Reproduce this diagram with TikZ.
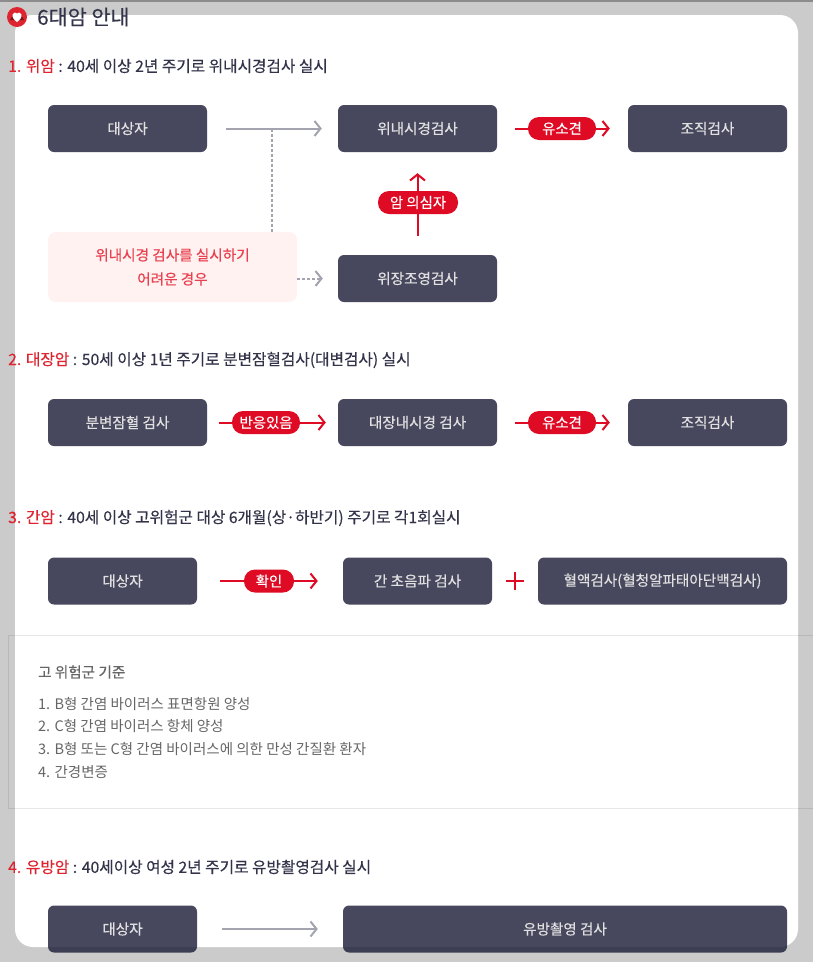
\documentclass[tikz,border=0pt]{standalone}
\usepackage{fontspec}
\setmainfont{Noto Sans CJK KR}
\newfontfamily\heavyfont{Noto Sans CJK KR}[FakeBold=0.35]
\usetikzlibrary{arrows.meta}
\definecolor{panelgray}{HTML}{CBCBCB}
\definecolor{boxdark}{HTML}{191B36}
\definecolor{headdark}{HTML}{33344A}
\definecolor{accentred}{HTML}{DF0A24}
\definecolor{headred}{HTML}{DE2430}
\definecolor{softpink}{HTML}{FFF2F1}
\definecolor{pinktext}{HTML}{E8404F}
\definecolor{arrowgray}{HTML}{A3A4AF}
\definecolor{notegray}{HTML}{666666}
\tikzset{
	examw/.style={draw=none, fill=boxdark, fill opacity=0.8, text opacity=1, text=white!88!black, rounded corners=6pt, minimum height=47pt, inner sep=0pt, font=\heavyfont\fontsize{14.6}{14.6}\selectfont, minimum width=#1},
	tag/.style={fill=accentred, text=white, rounded corners=11pt, minimum height=23pt, inner sep=0pt, font=\heavyfont\fontsize{14.4}{14.4}\selectfont, minimum width=#1},
	heading/.style={anchor=west, inner sep=0pt, text=headdark, font=\heavyfont\fontsize{15.7}{15.7}\selectfont},
	noteline/.style={anchor=west, inner sep=0pt, text=notegray, font=\fontsize{14.5}{14.5}\selectfont},
	grayflow/.style={draw=arrowgray, line width=2pt, -{Straight Barb[length=6pt,width=15pt]}},
	redflow/.style={draw=accentred, line width=2pt, -{Straight Barb[length=6pt,width=15pt]}},
}
\begin{document}
\begin{tikzpicture}[x=1pt, y=-1pt]
	\useasboundingbox (0, 0) rectangle (813, 962);
	\fill [panelgray] (0, 0) rectangle (813, 962);
	\fill [black!45] (0, 0) rectangle (813, 2);
	\fill [white, rounded corners=18pt] (15, 15) rectangle (798, 947);

	\node [circle, fill=headred, minimum size=20pt, inner sep=0pt] (icon) at (17, 17) {};
	\fill [black!45!headred] (10, 20) arc (200:340:7.5) -- cycle;
	\fill [white] (17, 22) .. controls (14, 20) and (12, 17) .. (12.5, 14.5) .. controls (13, 12) and (16, 12) .. (17, 13.5) .. controls (18, 12) and (21, 12) .. (21.5, 14.5) .. controls (22, 17) and (20, 20) .. (17, 22);
	\node [heading, font=\heavyfont\fontsize{20.7}{20.7}\selectfont] (title) at (37, 17) {6대암 안내};

	\node [heading] (headA) at (8, 66) {\textcolor{headred}{1. 위암} : 40세 이상 2년 주기로 위내시경검사 실시};
	\node [examw=159pt] (targetA) at (127.5, 128.5) {대상자};
	\node [examw=159pt] (scopeA) at (417.5, 128.5) {위내시경검사};
	\node [examw=159pt] (tissueA) at (707.5, 128.5) {조직검사};
	\node [examw=159pt] (contrast) at (417.5, 278.5) {위장조영검사};
	\node [fill=softpink, rounded corners=8pt, minimum width=249pt, minimum height=70pt, inner sep=0pt, text=pinktext, align=center, font=\heavyfont\fontsize{14.6}{24}\selectfont] (hard) at (172.5, 267) {위내시경 검사를 실시하기\\어려운 경우};
	\coordinate (split) at (272, 128.5);
	\draw [grayflow, shorten <=19pt, shorten >=16pt] (targetA) -- (scopeA);
	\draw [arrowgray, line width=2pt, dash pattern=on 3pt off 2pt] (split) -- (split |- hard.north);
	\draw [grayflow, dash pattern=on 3pt off 2pt, shorten >=15pt] (hard.east |- contrast.west) -- (contrast.west);
	\draw [redflow, shorten <=18pt, shorten >=18pt] (scopeA) -- (tissueA);
	\draw [redflow, shorten <=19pt, shorten >=21pt] (contrast) -- (scopeA);
	\node [tag=68pt] (findA) at (562, 128.5) {유소견};
	\node [tag=80pt] (suspect) at (418, 202.5) {암 의심자};

	\node [heading] (headB) at (8, 360) {\textcolor{headred}{2. 대장암} : 50세 이상 1년 주기로 분변잠혈검사(대변검사) 실시};
	\node [examw=159pt] (stool) at (127.5, 422.5) {분변잠혈 검사};
	\node [examw=159pt] (colon) at (417.5, 422.5) {대장내시경 검사};
	\node [examw=159pt] (tissueB) at (707.5, 422.5) {조직검사};
	\draw [redflow, shorten <=12pt, shorten >=12pt] (stool) -- (colon);
	\draw [redflow, shorten <=18pt, shorten >=18pt] (colon) -- (tissueB);
	\node [tag=68pt] (react) at (266, 422.5) {반응있음};
	\node [tag=68pt] (findB) at (562, 422.5) {유소견};

	\node [heading] (headC) at (8, 518) {\textcolor{headred}{3. 간암} : 40세 이상 고위험군 대상 6개월(상·하반기) 주기로 각1회실시};
	\node [examw=149pt] (targetC) at (122.5, 581) {대상자};
	\node [examw=149pt] (echo) at (417.5, 581) {간 초음파 검사};
	\node [examw=249pt] (blood) at (662.5, 581) {혈액검사(혈청알파태아단백검사)};
	\draw [redflow, shorten <=23pt, shorten >=25pt] (targetC) -- (echo);
	\node [tag=50pt] (confirm) at (269, 581) {확인};
	\coordinate (plus) at (515, 581);
	\draw [accentred, line width=1.8pt] ([xshift=-9pt]plus) -- ([xshift=9pt]plus) (plus) ++(0, -9) -- ++(0, 18);

	\draw [black, draw opacity=0.09, line width=0.8pt] (8, 635) rectangle (830, 808);
	\node [noteline, font=\heavyfont\fontsize{14.6}{14.6}\selectfont] (noteHead) at (38, 672) {고 위험군 기준};
	\node [noteline] (noteA) at (38, 704) {1. B형 간염 바이러스 표면항원 양성};
	\node [noteline] (noteB) at (38, 726) {2. C형 간염 바이러스 항체 양성};
	\node [noteline] (noteC) at (38, 749) {3. B형 또는 C형 간염 바이러스에 의한 만성 간질환 환자};
	\node [noteline] (noteD) at (38, 772) {4. 간경변증};

	\node [heading] (headD) at (8, 867) {\textcolor{headred}{4. 유방암} : 40세이상 여성 2년 주기로 유방촬영검사 실시};
	\node [examw=149pt] (targetD) at (122.5, 929) {대상자};
	\node [examw=444pt] (mammo) at (565, 929) {유방촬영 검사};
	\draw [grayflow, shorten <=25pt, shorten >=25pt] (targetD) -- (mammo);
\end{tikzpicture}
\end{document}
